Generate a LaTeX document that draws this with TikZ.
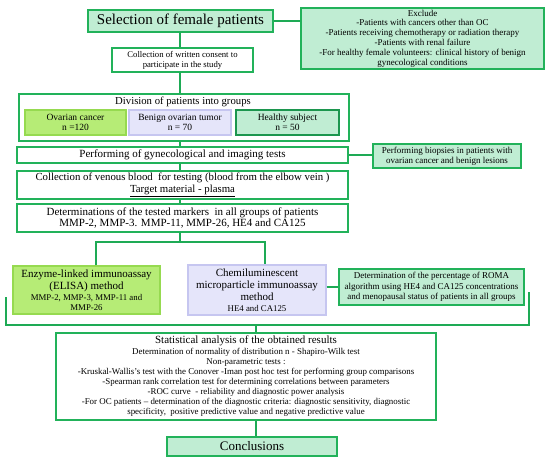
\documentclass[tikz,border=0pt]{standalone}
\usepackage{fontspec}
\setmainfont{Liberation Serif}
\definecolor{gborder}{RGB}{34,178,90}
\definecolor{gline}{RGB}{30,170,85}
\definecolor{glight}{RGB}{192,237,211}
\definecolor{gdark}{RGB}{28,150,78}
\definecolor{limef}{RGB}{182,236,118}
\definecolor{limeb}{RGB}{150,218,80}
\definecolor{lavf}{RGB}{229,229,250}
\definecolor{lavb}{RGB}{198,198,240}
\newcommand\myfs[2]{\fontsize{#1}{#2}\selectfont}
\begin{document}
\begin{tikzpicture}[x=1pt,y=-1pt,
  box/.style={draw=gborder, fill=white, line width=1.3pt, inner sep=1pt, align=center, text=black},
  lite/.style={box, fill=glight},
  limebox/.style={box, draw=limeb, fill=limef},
  lavbox/.style={box, draw=lavb, fill=lavf},
  healthybox/.style={box, draw=gdark, fill=glight},
  txt/.style={inner sep=0pt, align=center, text=black},
  conn/.style={draw=gline, line width=1.7pt}]
\useasboundingbox (0,0) rectangle (550,460);

% top
\node[lite, minimum width=185pt, minimum height=22pt, font=\myfs{15}{17}] (title) at (180.5,21) {Selection of female patients};
\node[lite, minimum width=243pt, minimum height=61pt, font=\myfs{9}{9.8}] (exclude) at (422.5,38.5)
  {Exclude\\-Patients with cancers other than OC\\-Patients receiving chemotherapy or radiation therapy\\-Patients with renal failure\\-For healthy female volunteers: clinical history of benign\\gynecological conditions};
\node[box, minimum width=141pt, minimum height=24pt, font=\myfs{8.7}{10}] (consent) at (182.5,60)
  {Collection of written consent to\\participate in the study};

% division
\node[box, minimum width=330pt, minimum height=47pt] (division) at (184,117.5) {};
\node[txt, font=\myfs{10.7}{12}] (divT) at (183,102) {Division of patients into groups};
\node[limebox, minimum width=101pt, minimum height=25pt, font=\myfs{9.5}{10}] (ovarian) at (75.5,122.5) {Ovarian cancer\\n =120};
\node[lavbox, minimum width=102pt, minimum height=25pt, font=\myfs{9.5}{10}] (benign) at (180,122.5) {Benign ovarian tumor\\n = 70};
\node[healthybox, minimum width=103pt, minimum height=25pt, font=\myfs{9.5}{10}] (healthy) at (287.5,122.5) {Healthy subject\\n = 50};

% tests
\node[box, minimum width=331pt, minimum height=16pt, font=\myfs{11}{12}] (perform) at (182.5,155) {Performing of gynecological and imaging tests};
\node[lite, minimum width=148pt, minimum height=24pt, font=\myfs{9}{10}] (biopsy) at (447,156)
  {Performing biopsies in patients with\\ovarian cancer and benign lesions};
\node[box, minimum width=331pt, minimum height=28pt, font=\myfs{10.8}{12}] (collect) at (182.5,185)
  {Collection of venous blood\ \ for testing (blood from the elbow vein )\\\underline{Target material - plasma}};
\node[box, minimum width=331pt, minimum height=28pt, font=\myfs{11}{11.5}] (determ) at (182.5,218)
  {Determinations of the tested markers\ \ in all groups of patients\\MMP-2, MMP-3. MMP-11, MMP-26, HE4 and CA125};

% methods
\node[limebox, minimum width=147pt, minimum height=48pt] (elisa) at (86.5,290) {};
\node[txt, font=\myfs{11}{12}] (elisaA) at (86.5,281) {Enzyme-linked immunoassay\\(ELISA) method};
\node[txt, font=\myfs{8.8}{10}] (elisaB) at (86.5,302) {MMP-2, MMP-3, MMP-11 and\\MMP-26};
\node[lavbox, minimum width=138pt, minimum height=50pt] (chemi) at (257,290) {};
\node[txt, font=\myfs{11}{12}] (chemiA) at (257,285) {Chemiluminescent\\microparticle immunoassay\\method};
\node[txt, font=\myfs{8.8}{10}] (chemiB) at (257,308) {HE4 and CA125};
\node[lite, minimum width=185pt, minimum height=36pt, font=\myfs{9}{10.5}] (roma) at (431.5,287)
  {Determination of the percentage of ROMA\\algorithm using HE4 and CA125 concentrations\\and menopausal status of patients in all groups};

% statistics
\node[box, minimum width=380pt, minimum height=87pt] (stat) at (246,376.5) {};
\node[txt, font=\myfs{11}{12}] (statA) at (246,341) {Statistical analysis of the obtained results};
\node[txt, font=\myfs{8.9}{10}] (statB) at (246,382.5)
  {Determination of normality of distribution n - Shapiro-Wilk test\\
   Non-parametric tests :\\
   -Kruskal-Wallis's test with the Conover -Iman post hoc test for performing group comparisons\\
   -Spearman rank correlation test for determining correlations between parameters\\
   -ROC curve\ \ - reliability and diagnostic power analysis\\
   -For OC patients -- determination of the diagnostic criteria: diagnostic sensitivity, diagnostic\\
   specificity,\ \ positive predictive value and negative predictive value};
\node[lite, minimum width=170pt, minimum height=19pt, font=\myfs{13}{14}] (concl) at (252,446.5) {Conclusions};

% connectors
\coordinate (spine) at (180,0);
\draw[conn] (title.south -| spine) -- (consent.north -| spine);
\draw[conn] (consent.south -| spine) -- (division.north -| spine);
\draw[conn] (division.south -| spine) -- (perform.north -| spine);
\draw[conn] (perform.south -| spine) -- (collect.north -| spine);
\draw[conn] (collect.south -| spine) -- (determ.north -| spine);
\coordinate (split) at (180,242);
\coordinate (sl) at (96,242);
\coordinate (sr) at (265,242);
\draw[conn] (determ.south -| split) -- (split);
\draw[conn] (sl |- elisa.north) -- (sl) -- (sr) -- (sr |- chemi.north);
\draw[conn] (title.east) -- (title.east -| exclude.west);
\draw[conn] (perform.east) -- (perform.east -| biopsy.west);
\draw[conn] (roma.west -| chemi.east) -- (roma.west);
\coordinate (bl) at (6,297);
\coordinate (blc) at (6,325);
\coordinate (brc) at (529,325);
\coordinate (br) at (529,292);
\draw[conn] (bl) -- (blc) -- (brc) -- (br);
\coordinate (jn) at (256,325);
\draw[conn] (jn) -- (jn |- stat.north);
\draw[conn] (jn |- stat.south) -- (jn |- concl.north);
\end{tikzpicture}
\end{document}
